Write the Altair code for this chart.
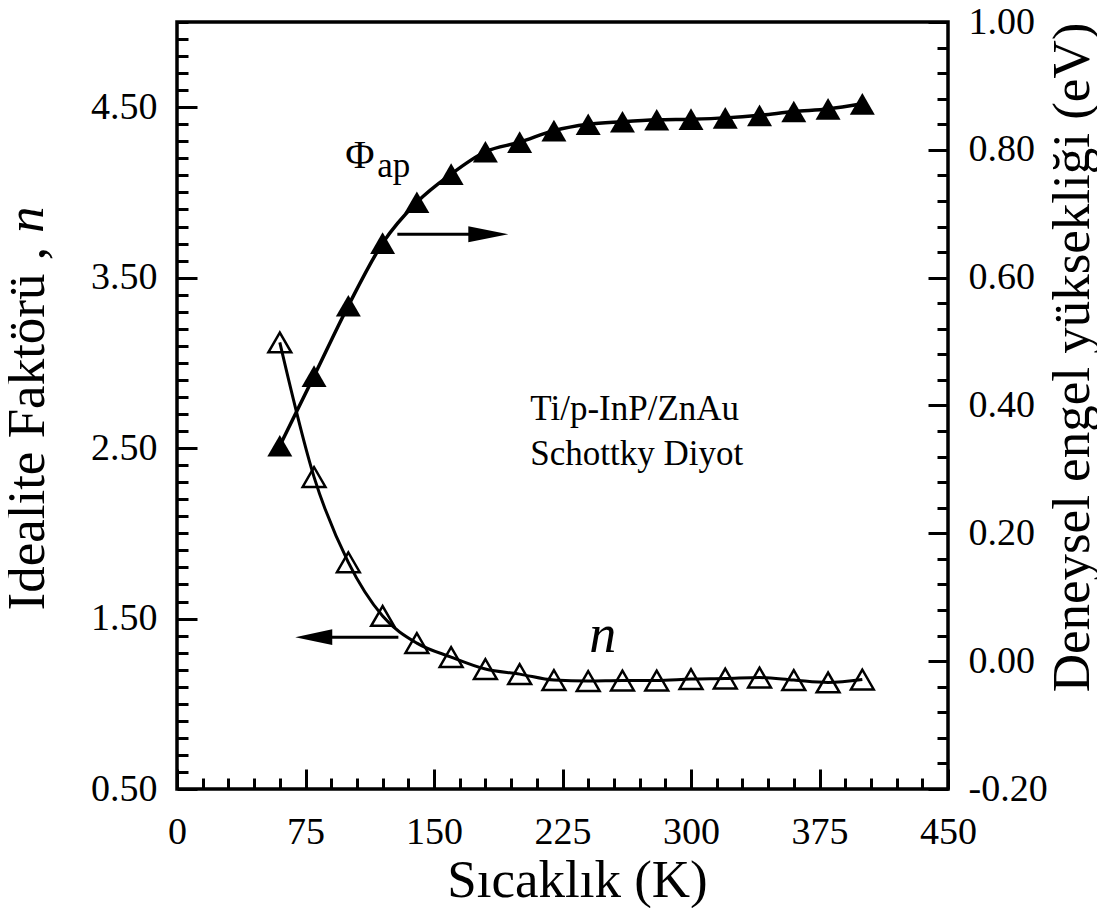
import altair as alt
import pandas as pd

# ---------------- data ----------------
temperature = [60, 80, 100, 120, 140, 160, 180, 200, 220, 240,
               260, 280, 300, 320, 340, 360, 380, 400]
ideality_n = [3.12, 2.33, 1.83, 1.515, 1.356, 1.274, 1.204, 1.174, 1.139,
              1.133, 1.136, 1.136, 1.145, 1.148, 1.154, 1.139, 1.125, 1.142]
barrier_phi = [0.337, 0.446, 0.556, 0.654, 0.718, 0.762, 0.797, 0.812, 0.830,
               0.840, 0.844, 0.847, 0.848, 0.850, 0.854, 0.860, 0.864, 0.872]

x_major = [0, 75, 150, 225, 300, 375, 450]
x_minor = [v for v in range(0, 451, 15) if v % 75 != 0]
n_major = [0.5, 1.5, 2.5, 3.5, 4.5]
n_minor = [round(0.5 + 0.1 * i, 2) for i in range(46) if i % 10 != 0]
phi_major = [-0.2, 0.0, 0.2, 0.4, 0.6, 0.8, 1.0]
phi_minor = [round(-0.2 + 0.04 * i, 2) for i in range(31) if i % 5 != 0]

sample_lines = ["Ti/p-InP/ZnAu", "Schottky Diyot"]

W, H = 771, 767
FONT = "Liberation Serif"
TITLE_SIZE = 53

df = pd.DataFrame({"T": temperature, "n": ideality_n, "phi": barrier_phi})

x_sc = alt.Scale(domain=[0, 450], nice=False, zero=False)
n_sc = alt.Scale(domain=[0.5, 5.0], nice=False, zero=False)
phi_sc = alt.Scale(domain=[-0.2, 1.0], nice=False, zero=False)

# ---------------- axes ----------------
x_label_axis = alt.Axis(orient="bottom", values=x_major, ticks=False, tickSize=0,
                        labelPadding=24, labelFlush=False, labelOverlap=False,
                        title="Sıcaklık (K)", titleFontSize=TITLE_SIZE,
                        titleX=400, titleY=107, titleAlign="center",
                        titleBaseline="alphabetic")
x_major_ticks = alt.Axis(orient="top", offset=-H, values=x_major, ticks=True,
                         tickSize=20, labels=False, title="")
x_minor_ticks = alt.Axis(orient="top", offset=-H, values=x_minor, ticks=True,
                         tickSize=11, labels=False, title="")

n_label_axis = alt.Axis(orient="left", values=n_major, ticks=False, tickSize=0,
                        labelPadding=20, labelOverlap=False,
                        labelExpr="format(datum.value, '.2f')",
                        title="Idealite Faktörü ,", titleFontSize=TITLE_SIZE,
                        titleAngle=270, titleX=-134, titleY=588,
                        titleAlign="left", titleBaseline="alphabetic")
n_major_ticks = alt.Axis(orient="right", offset=-W, values=n_major, ticks=True,
                         tickSize=20, labels=False, title="")
n_minor_ticks = alt.Axis(orient="right", offset=-W, values=n_minor, ticks=True,
                         tickSize=11, labels=False, title="")

phi_label_axis = alt.Axis(orient="right", values=phi_major, ticks=False, tickSize=0,
                          labelPadding=20, labelOverlap=False,
                          labelExpr="datum.value < 0 ? '-' + format(-datum.value, '.2f') : format(datum.value, '.2f')",
                          title="Deneysel engel yüksekliği (eV)",
                          titleFontSize=TITLE_SIZE, titleAngle=270, titleX=140, titleY=335,
                          titleAlign="center", titleBaseline="alphabetic")
phi_major_ticks = alt.Axis(orient="left", offset=-W, values=phi_major, ticks=True,
                           tickSize=20, labels=False, title="")
phi_minor_ticks = alt.Axis(orient="left", offset=-W, values=phi_minor, ticks=True,
                           tickSize=11, labels=False, title="")

base = alt.Chart(df)

# ---------------- n series (left axis) ----------------
n_line = base.mark_line(color="black", strokeWidth=3, interpolate="monotone").encode(
    x=alt.X("T:Q", scale=x_sc, axis=x_label_axis),
    y=alt.Y("n:Q", scale=n_sc, axis=n_label_axis),
)
n_pts = base.mark_point(shape="triangle-up", size=520, filled=False, color="black",
                        strokeWidth=2.5, opacity=1).encode(
    x=alt.X("T:Q", scale=x_sc, axis=x_major_ticks),
    y=alt.Y("n:Q", scale=n_sc, axis=n_major_ticks),
)
n_minor = base.mark_point(opacity=0).encode(
    x=alt.X("T:Q", scale=x_sc, axis=x_minor_ticks),
    y=alt.Y("n:Q", scale=n_sc, axis=n_minor_ticks),
)

# ---------------- phi series (right axis) ----------------
phi_line = base.mark_line(color="black", strokeWidth=3.5, interpolate="monotone").encode(
    x=alt.X("T:Q", scale=x_sc, axis=None),
    y=alt.Y("phi:Q", scale=phi_sc, axis=phi_label_axis),
)
phi_pts = base.mark_point(shape="triangle-up", size=625, filled=True, color="black",
                          opacity=1).encode(
    x=alt.X("T:Q", scale=x_sc, axis=None),
    y=alt.Y("phi:Q", scale=phi_sc, axis=phi_major_ticks),
)
phi_minor = base.mark_point(opacity=0).encode(
    x=alt.X("T:Q", scale=x_sc, axis=None),
    y=alt.Y("phi:Q", scale=phi_sc, axis=phi_minor_ticks),
)

# ---------------- annotations in n coordinates ----------------
txt_df = pd.DataFrame({"x": [206.2, 206.2], "y": [2.664, 2.40], "label": sample_lines})
sample_txt = alt.Chart(txt_df).mark_text(font=FONT, fontSize=35, align="left",
                                         baseline="alphabetic", color="black").encode(
    x=alt.X("x:Q", scale=x_sc, axis=None),
    y=alt.Y("y:Q", scale=n_sc, axis=None),
    text="label:N",
)
n_lab = alt.Chart(pd.DataFrame({"x": [240.6], "y": [1.303], "label": ["n"]})).mark_text(
    font=FONT, fontSize=54, fontStyle="italic", align="left", baseline="alphabetic",
    color="black").encode(
    x=alt.X("x:Q", scale=x_sc, axis=None),
    y=alt.Y("y:Q", scale=n_sc, axis=None),
    text="label:N",
)
left_shaft = alt.Chart(pd.DataFrame({"x": [85.0, 129.2], "y": [1.391, 1.391]})).mark_line(
    color="black", strokeWidth=3).encode(
    x=alt.X("x:Q", scale=x_sc, axis=None),
    y=alt.Y("y:Q", scale=n_sc, axis=None),
)
left_head = alt.Chart(pd.DataFrame({"x": [79.8], "y": [1.391]})).mark_point(
    shape="M-1,0L1,-0.43L1,0.43Z", size=1369, filled=True, color="black",
    opacity=1, strokeWidth=0).encode(
    x=alt.X("x:Q", scale=x_sc, axis=None),
    y=alt.Y("y:Q", scale=n_sc, axis=None),
)

# ---------------- annotations in phi coordinates ----------------
phi_sym = alt.Chart(pd.DataFrame({"x": [98.2], "y": [0.7715], "label": ["Φ"]})).mark_text(
    font=FONT, fontSize=40, align="left", baseline="alphabetic", color="black").encode(
    x=alt.X("x:Q", scale=x_sc, axis=None),
    y=alt.Y("y:Q", scale=phi_sc, axis=None),
    text="label:N",
)
phi_sub = alt.Chart(pd.DataFrame({"x": [116.9], "y": [0.7575], "label": ["ap"]})).mark_text(
    font=FONT, fontSize=35, align="left", baseline="alphabetic", color="black").encode(
    x=alt.X("x:Q", scale=x_sc, axis=None),
    y=alt.Y("y:Q", scale=phi_sc, axis=None),
    text="label:N",
)
right_shaft = alt.Chart(pd.DataFrame({"x": [128.6, 175.0], "y": [0.668, 0.668]})).mark_line(
    color="black", strokeWidth=3).encode(
    x=alt.X("x:Q", scale=x_sc, axis=None),
    y=alt.Y("y:Q", scale=phi_sc, axis=None),
)
right_head = alt.Chart(pd.DataFrame({"x": [181.7], "y": [0.668]})).mark_point(
    shape="M1,0L-1,-0.4L-1,0.4Z", size=1600, filled=True, color="black",
    opacity=1, strokeWidth=0).encode(
    x=alt.X("x:Q", scale=x_sc, axis=None),
    y=alt.Y("y:Q", scale=phi_sc, axis=None),
)

# italic n of the left axis title
title_n = alt.Chart(pd.DataFrame({"label": ["n"]})).mark_text(
    font=FONT, fontSize=TITLE_SIZE, fontStyle="italic", angle=270, align="left",
    baseline="alphabetic", color="black").encode(
    x=alt.value(-134), y=alt.value(211), text="label:N",
)

chart = alt.layer(
    n_line, n_pts, n_minor,
    phi_line, phi_pts, phi_minor,
    sample_txt, n_lab, left_shaft, left_head,
    phi_sym, phi_sub, right_shaft, right_head,
    title_n,
).resolve_scale(
    x="independent", y="independent"
).properties(
    width=W, height=H,
    padding={"left": 169, "top": 14, "right": 149, "bottom": 119},
    autosize=alt.AutoSizeParams(type="none"),
).configure_axis(
    labelFont=FONT, labelFontSize=38, labelColor="black",
    titleFont=FONT, titleFontWeight="normal", titleColor="black",
    tickColor="black", tickWidth=3, grid=False, domain=False,
).configure_view(stroke="black", strokeWidth=3.5)

chart.save("out.html", embed_options={"renderer": "svg", "actions": False})
